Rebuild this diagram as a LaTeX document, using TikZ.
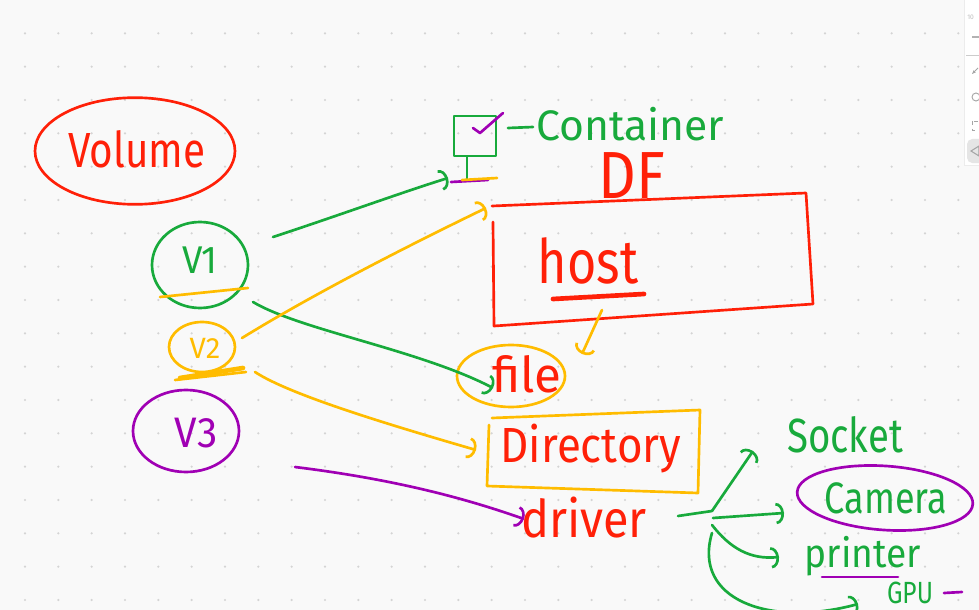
\documentclass[tikz,border=0pt]{standalone}
\usepackage{fontspec}
\setmainfont{Fira Sans}
\usepackage{graphicx}
\usetikzlibrary{arrows.meta,shapes.geometric}
\definecolor{pred}{RGB}{255,32,8}
\definecolor{pgreen}{RGB}{24,170,60}
\definecolor{pyellow}{RGB}{255,188,0}
\definecolor{ppurple}{RGB}{160,0,180}
\definecolor{bgc}{RGB}{249,249,249}
\definecolor{dotc}{RGB}{212,212,212}
\newcommand{\hwt}[3]{\fontsize{#1}{#1}\selectfont\scalebox{#2}[1]{#3}}
\begin{document}
\begin{tikzpicture}[x=0.75pt,y=0.75pt,
  pen/.style={line width=2pt,line cap=round,line join=round},
  arr/.style={-{Arc Barb[width=16pt,length=6pt]}},
  lbl/.style={anchor=base,inner sep=0pt},
  ring/.style={ellipse,pen,inner sep=0pt}]
\fill[bgc] (0,0) rectangle (979,-610);
\useasboundingbox (0,0) rectangle (979,-610);
\clip (0,0) rectangle (979,-610);
\foreach \i in {0,...,28} \foreach \j in {1,...,18}
  \fill[dotc] ({25+33.333*\i},{-33.333*\j}) circle (0.9pt);
% toolbar
\fill[white,draw=gray!15] (964,5) rectangle (990,-165);
\draw[gray!60,line width=0.8pt] (972,-37) -- (979,-37);
\draw[gray!40,line width=0.5pt] (966,-55) -- (979,-55);
\draw[gray!70,line width=0.7pt,-{Stealth[length=3pt]}] (978,-68) -- (972,-74);
\draw[gray!70,line width=0.7pt] (976,-97) circle (3pt);
\draw[gray!70,line width=0.7pt,dashed] (972,-121) rectangle (982,-130);
\fill[gray!20,rounded corners=4pt] (967,-139) rectangle (990,-163);
\draw[gray!70,line width=0.8pt] (971,-151) -- (979,-146) -- (979,-156) -- cycle;
\node[lbl,anchor=base west,text=gray!50] (zoomlbl) at (967,-20) {\fontsize{5}{5}\selectfont 10};

% Volume
\node[ring,draw=pred,minimum width=150pt,minimum height=80pt] (volume) at (135,-151) {};
\node[lbl,text=pred] (voltxt) at (137,-167) {\hwt{37}{0.82}{Volume}};

% V1, V2, V3
\node[ring,draw=pgreen,minimum width=72pt,minimum height=64.5pt] (v1) at (200,-265) {};
\node[lbl,text=pgreen] (v1txt) at (200,-273) {\hwt{29}{0.95}{V1}};
\draw[pen,pyellow] (160,-297) -- (248,-288);
\node[ring,draw=pyellow,minimum width=49.5pt,minimum height=37.5pt] (v2) at (202,-347) {};
\node[lbl,text=pyellow] (v2txt) at (205,-358) {\hwt{22}{1}{V2}};
\draw[pyellow,line width=3.5pt,line cap=round] (180,-378) -- (243,-368);
\draw[pen,pyellow] (175,-380) -- (246,-372);
\node[ring,draw=ppurple,minimum width=79.5pt,minimum height=61.5pt] (v3) at (186,-431) {};
\node[lbl,text=ppurple] (v3txt) at (196,-447) {\hwt{32}{0.95}{V3}};

% Container icon
\node[draw=pgreen,pen,minimum width=31.5pt,minimum height=30pt,inner sep=0pt] (cbox) at (475,-136) {};
\draw[pen,ppurple] (473,-128) -- (480,-133) -- (503,-113);
\coordinate (stemtop) at (467,-157);
\coordinate (stembot) at (467,-179);
\draw[pen,pgreen] (stemtop) -- (stembot);
\draw[pen,ppurple] (451,-182) -- (488,-180);
\draw[pen,pyellow] (462,-180) -- (497,-178);
\coordinate (dashA) at (508,-128);
\coordinate (dashB) at (533,-127);
\draw[pen,pgreen] (dashA) -- (dashB);
\node[lbl,anchor=base west,text=pgreen] (container) at (536,-141) {\hwt{32}{1}{Container}};

% DF host box
\node[lbl,text=pred] (df) at (632,-198) {\hwt{50}{0.88}{DF}};
\draw[pen,pred] (493,-222) -- (494,-326) -- (813,-304) -- (806,-193) -- (492,-206);
\node[lbl,text=pred] (host) at (588,-283) {\hwt{46}{0.82}{host}};
\draw[pred,line width=3.5pt,line cap=round] (553,-299) -- (644,-294);

% file
\node[ring,draw=pyellow,minimum width=81pt,minimum height=46.5pt] (file) at (511,-376) {};
\node[lbl,text=pred] (filetxt) at (527,-392) {\hwt{37}{1}{file}};
\coordinate (hostout) at (602,-310);
\coordinate (filein) at (582,-354);
\draw[pen,pyellow,arr] (hostout) -- (filein);

% Directory
\draw[pen,pyellow] (489,-425) -- (487,-486) -- (698,-493) -- (700,-410) -- (492,-418);
\node[lbl,text=pred] (dir) at (591,-462) {\hwt{37}{0.89}{Directory}};

% driver
\node[lbl,text=pred] (driver) at (584,-537) {\hwt{39}{0.9}{driver}};

% connectors from volumes
\coordinate (v1a) at (273,-237);
\coordinate (conin) at (448,-178);
\draw[pen,pgreen,arr] (v1a) .. controls (340,-215) and (400,-193) .. (conin);
\coordinate (v1b) at (253,-302);
\coordinate (filehook) at (493,-388);
\draw[pen,pgreen,arr] (v1b) .. controls (300,-330) and (420,-350) .. (filehook);
\coordinate (v2a) at (242,-338);
\coordinate (hostin) at (486,-208);
\draw[pen,pyellow,arr] (v2a) .. controls (320,-290) and (420,-240) .. (hostin);
\coordinate (v2b) at (255,-372);
\coordinate (dirin) at (476,-450);
\draw[pen,pyellow,arr] (v2b) .. controls (290,-395) and (390,-425) .. (dirin);
\coordinate (v3a) at (295,-467);
\coordinate (drvin) at (524,-519);
\draw[pen,ppurple,arr] (v3a) .. controls (400,-480) and (470,-500) .. (drvin);

% driver branches
\coordinate (drvout) at (678,-516);
\coordinate (junc) at (712,-511);
\draw[pen,pgreen] (drvout) -- (junc);
\coordinate (sockin) at (753,-451);
\draw[pen,pgreen,arr] (junc) -- (sockin);
\coordinate (j2) at (713,-518);
\coordinate (camin) at (784,-513);
\draw[pen,pgreen,arr] (j2) -- (camin);
\coordinate (j3) at (712,-525);
\coordinate (prin) at (779,-557);
\draw[pen,pgreen,arr] (j3) .. controls (730,-548) and (750,-560) .. (prin);
\coordinate (j4) at (712,-533);
\coordinate (gpuin) at (858,-604);
\draw[pen,pgreen,arr] (j4) .. controls (692,-600) and (770,-628) .. (gpuin);

% right labels
\node[lbl,text=pgreen] (socket) at (845,-452) {\hwt{36}{0.8}{Socket}};
\draw[pen,ppurple,rotate around={-4:(885,-498)}] (885,-498) ellipse (66pt and 24pt);
\node[lbl,text=pgreen] (camera) at (886,-513) {\hwt{33}{0.82}{Camera}};
\node[lbl,text=pgreen] (printer) at (863,-567) {\hwt{30}{0.93}{printer}};
\draw[pen,ppurple] (822,-577) -- (898,-577);
\node[lbl,text=pgreen] (gpu) at (910,-603) {\hwt{23}{0.8}{GPU}};
\draw[pen,ppurple] (944,-593) -- (962,-592);
\end{tikzpicture}
\end{document}
